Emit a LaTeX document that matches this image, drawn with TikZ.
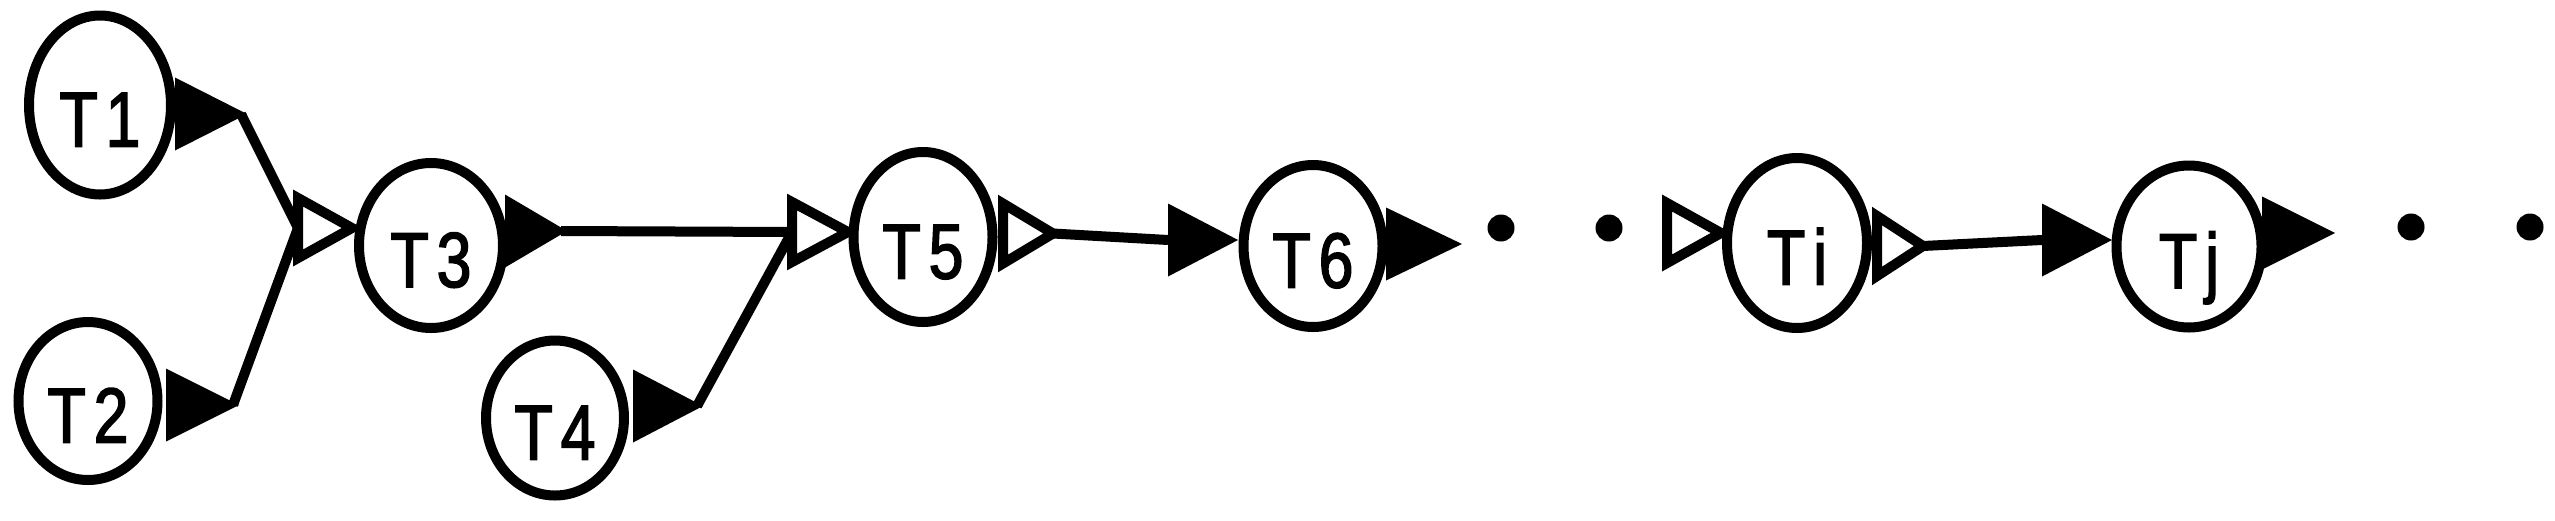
\documentclass[tikz,border=0pt]{standalone}
\usepackage{fontspec}
\setmainfont{Liberation Sans}
\newfontfamily\lblfont{Liberation Sans}[FakeStretch=0.8,FakeBold=2]
\usetikzlibrary{shapes.geometric}
\pgfdeclarelayer{bg}
\pgfsetlayers{bg,main}
\newcommand\tlabel[2]{#1\kern8pt #2}
\begin{document}
\begin{tikzpicture}[x=1pt,y=-1pt, line width=10pt,
  task/.style={ellipse, draw, fill=white, inner sep=0pt, text height=83pt, text depth=0pt,
               font=\lblfont\fontsize{78}{80}\selectfont},
  conn/.style={line width=10pt},
  ddot/.style={circle, fill=black, inner sep=0pt, minimum size=27pt},
  pics/farrow/.style={code={
     \fill (0,-36.5) -- (#1,0) -- (0,36.5) -- cycle;
     \coordinate (-base) at (0,0); \coordinate (-tip) at (#1-6,0);}},
  pics/harrow/.style={code={
     \draw[fill=white, line join=miter] (5,-30) -- (#1-10,0) -- (5,30) -- cycle;
     \coordinate (-base) at (5,0); \coordinate (-tip) at (#1-10,0);}},
]
\useasboundingbox (0,0) rectangle (2555,520);

% tasks
\node[task, minimum width=142pt, minimum height=179pt] (t1) at (100,105) {\tlabel{T}{1}};
\node[task, minimum width=139pt, minimum height=158pt] (t2) at (88,401) {\tlabel{T}{2}};
\node[task, minimum width=144pt, minimum height=165pt] (t3) at (431,245.5) {\tlabel{T}{3}};
\node[task, minimum width=138pt, minimum height=155pt] (t4) at (555,418) {\tlabel{T}{4}};
\node[task, minimum width=139pt, minimum height=170pt] (t5) at (923,237) {\tlabel{T}{5}};
\node[task, minimum width=139pt, minimum height=162pt] (t6) at (1313,246) {\tlabel{T}{6}};
\node[task, minimum width=140pt, minimum height=170pt] (ti) at (1797,243) {\tlabel{T}{i}};
\node[task, minimum width=145pt, minimum height=162pt] (tj) at (2189,246.5) {\tlabel{T}{j}};

% ports
\pic (a1) at (175,114) {farrow=72};
\pic (a2) at (166,405) {farrow=73};
\pic (b3) at (293,228) {harrow=69};
\pic (a3) at (505,231) {farrow=62};
\pic (a4) at (633,406) {farrow=70};
\pic (b5) at (787,232) {harrow=71};
\pic (a5) at (998,233.5) {harrow=65};
\pic (b6) at (1168,240) {farrow=70};
\pic (a6) at (1386,244) {farrow=76};
\pic (bi) at (1662,233) {harrow=69};
\pic (ai) at (1872,246) {harrow=61};
\pic (bj) at (2042,240) {farrow=70};
\pic (aj) at (2262,233) {farrow=73};

% ellipsis dots
\node[ddot] (d1) at (1501,228) {};
\node[ddot] (d2) at (1609,228) {};
\node[ddot] (d3) at (2411,227) {};
\node[ddot] (d4) at (2530,227) {};

% connectors
\begin{pgfonlayer}{bg}
\draw[conn] (a1-tip) -- (b3-base);
\draw[conn] (a2-tip) -- (b3-base);
\draw[conn] (a3-tip) -- (b5-base);
\draw[conn] (a4-tip) -- (b5-base);
\draw[conn] (a5-tip) -- (b6-base);
\draw[conn] (ai-tip) -- (bj-base);
\end{pgfonlayer}
\end{tikzpicture}
\end{document}
